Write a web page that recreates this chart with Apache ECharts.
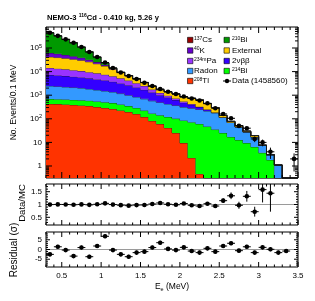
<!DOCTYPE html>
<html><head><meta charset="utf-8">
<script src="https://cdn.jsdelivr.net/npm/echarts@6/dist/echarts.min.js"></script>
<style>html,body{margin:0;padding:0;background:#fff}#c{width:315px;height:301px}</style>
</head><body><div id="c"></div>
<script>
// ---- data (bins of 0.1 MeV, centers) ----
const binCenters = [0.35,0.45,0.55,0.65,0.75,0.85,0.95,1.05,1.15,1.25,1.35,1.45,1.55,1.65,1.75,1.85,1.95,2.05,2.15,2.25,2.35,2.45,2.55,2.65,2.75,2.85,2.95,3.05,3.15,3.25,3.35,3.45];
const dataCounts = [440000,328000,233000,165701,110000,67700,41600,24300,14200,9160,6510,4860,3390,2455,1832,1407,1125,881,725,596,454,279,160,105,50,40,14,10,4,0,0,2];
const tl208   = [424,420,404,385,366,349,316,287,260,225,194,160,119,81,60,41,25,9.4,2.2,0.46,0,0,0,0,0,0,0,0,0,0,0,0];
const bi214   = [266,258,252,248,244,236,226,215,203,180,152,128,104,88,81,78,77,76,70,60,47,35,25,17,12.6,9.4,6.4,3.6,1.8,0,0,0];
const radon   = [1765,1665,1568,1478,1392,1250,1119,1003,900,762,651,552,476,408,353,305,263,227,207,188,167,141,88.5,52.8,32.4,18.2,10.5,4,1.2,1.1,0,0];
const twoNuBB = [4725,4500,4250,3950,3650,3330,3000,2680,2370,2000,1650,1300,1000,720,500,370,260,170,110,65,30,10,1.5,0.3,0,0,0,0,0,0,0,0];
const pa234m  = [7040,6500,5950,5400,4850,4300,3750,3200,2600,2000,1500,1080,760,430,250,160,100,60,32,14,4,0,0,0,0,0,0,0,0,0,0,0];
const external= [27330,26000,24000,22000,19500,16500,13000,9690,6300,3840,2620,1755,1006,689,471,439,410,301,325,307,193,111,24,8,6.5,2.7,2.5,0,0,0,0,0];
const k40     = [19850,17500,14500,11500,8500,5800,3800,2200,1000,350,60,0,0,0,0,0,0,0,0,0,0,0,0,0,0,0,0,0,0,0,0,0];
const bi210   = [380170,269912,181775,122256,71152,36898,16020,4000,600,50,0,0,0,0,0,0,0,0,0,0,0,0,0,0,0,0,0,0,0,0,0,0];
const cs137   = [200,250,300,150,30,0,0,0,0,0,0,0,0,0,0,0,0,0,0,0,0,0,0,0,0,0,0,0,0,0,0,0];
const ratioValues = [0.996,1.003,1.0,0.99,1.003,0.986,1.009,1.044,0.997,0.974,0.955,0.977,0.981,1.02,1.06,1.01,0.99,1.04,0.97,0.94,1.03,0.94,1.15,1.34,0.97,1.32,0.72,1.58,1.44,null,null,null];
const residualValues = [-2.5,1.4,-0.3,-3.4,1.0,-3.7,1.8,6.8,-0.3,-2.5,-3.7,-1.6,-1.1,1.0,3.5,0.3,-0.3,1.1,-0.8,-1.6,0.6,-1.1,1.8,3.2,-0.6,1.4,-1.6,1.1,0.1,-1.6,-0.8,null];
const xMajorTicks = [0.5,1,1.5,2,2.5,3,3.5];
const logDecades = [0,1,2,3,4,5];
const ratioMajorTicks = [0.5,1,1.5];
const residualMajorTicks = [-5,0,5];

const BIN_W = 0.1, X_MIN = 0.3, X_MAX = 3.5;
const Y_MIN = 0.31, Y_MAX = 7.76e5;
const FONT = 'Liberation Sans, Arial, Helvetica, sans-serif';

const layers = [
  {values: tl208,   color:'#ff3300'},
  {values: bi214,   color:'#00ff00'},
  {values: radon,   color:'#3399ff'},
  {values: twoNuBB, color:'#3300ff'},
  {values: pa234m,  color:'#9933ff'},
  {values: external,color:'#ffcc00'},
  {values: k40,     color:'#6600cc'},
  {values: bi210,   color:'#009900'},
  {values: cs137,   color:'#990000'}
];

const clampY = v => Math.max(Y_MIN, Math.min(Y_MAX, v));
let cum = binCenters.map(() => 0);
const stackSeries = layers.map((L) => {
  const lower = cum.slice();
  const upper = cum.map((c, i) => c + L.values[i]);
  cum = upper;
  return {
    type:'custom', xAxisIndex:0, yAxisIndex:0, z:2, silent:true, animation:false,
    data:[[1,1]],
    renderItem(params, api){
      const top = [], bot = [];
      for (let i = 0; i < binCenters.length; i++){
        const x0 = binCenters[i] - BIN_W/2, x1 = binCenters[i] + BIN_W/2;
        top.push(api.coord([x0, clampY(upper[i])]), api.coord([x1, clampY(upper[i])]));
        bot.push(api.coord([x0, clampY(lower[i])]), api.coord([x1, clampY(lower[i])]));
      }
      const poly = top.concat(bot.slice().reverse());
      return {type:'group', children:[
        {type:'polygon', shape:{points:poly}, style:{fill:L.color, stroke:null}},
        {type:'polyline', shape:{points:top}, style:{stroke:'#1a1a1a', lineWidth:0.7, fill:null}}
      ]};
    }
  };
});

function pointSeries(xi, yi, items, lo, hi, z){
  return {
    type:'custom', xAxisIndex:xi, yAxisIndex:yi, z:z||10, silent:true, animation:false,
    data: items,
    renderItem(params, api){
      const x = api.value(0), y = api.value(1), e = api.value(2);
      const c = api.coord([x, y]);
      const l = api.coord([x - BIN_W/2, y]), r = api.coord([x + BIN_W/2, y]);
      const a = api.coord([x, Math.max(lo, y - e)]), b = api.coord([x, Math.min(hi, y + e)]);
      return {type:'group', children:[
        {type:'line', shape:{x1:l[0], y1:c[1], x2:r[0], y2:c[1]}, style:{stroke:'#000', lineWidth:1}},
        {type:'line', shape:{x1:c[0], y1:a[1], x2:c[0], y2:b[1]}, style:{stroke:'#000', lineWidth:1}},
        {type:'circle', shape:{cx:c[0], cy:c[1], r:2.3}, style:{fill:'#000'}}
      ]};
    }
  };
}

const mainItems = [], ratioItems = [], resItems = [];
binCenters.forEach((x, i) => {
  const n = dataCounts[i];
  if (n > 0) mainItems.push([x, n, Math.sqrt(n)]);
  if (ratioValues[i] != null && ratioValues[i] >= 0.2 && ratioValues[i] <= 1.8)
    ratioItems.push([x, ratioValues[i], n > 0 ? ratioValues[i] / Math.sqrt(n) : 0]);
  if (residualValues[i] != null) resItems.push([x, residualValues[i], 1]);
});

// axis tick decorations (ROOT style: ticks on all four sides)
function tickSeries(xi, yi, xMaj, xMin, yMaj, yMin, lx, lxm, ly, lym, refLine){
  return {
    type:'custom', xAxisIndex:xi, yAxisIndex:yi, z:20, silent:true, animation:false,
    data:[[1,1]],
    renderItem(params, api){
      const cs = params.coordSys;
      const L = cs.x, R = cs.x + cs.width, T = cs.y, B = cs.y + cs.height;
      const ch = [];
      const ln = (x1,y1,x2,y2,col,w) => ch.push({type:'line', shape:{x1,y1,x2,y2}, style:{stroke:col||'#000', lineWidth:w||1}});
      if (refLine != null){
        const p = api.coord([X_MIN, refLine]);
        ln(L, p[1], R, p[1], '#9a9a9a', 1);
      }
      xMaj.forEach(v => { const p = api.coord([v, refLine != null ? refLine : 1]); ln(p[0], B, p[0], B - lx); ln(p[0], T, p[0], T + lx); });
      xMin.forEach(v => { const p = api.coord([v, refLine != null ? refLine : 1]); ln(p[0], B, p[0], B - lxm); ln(p[0], T, p[0], T + lxm); });
      yMaj.forEach(v => { const p = api.coord([X_MIN, v]); ln(L, p[1], L + ly, p[1]); ln(R, p[1], R - ly, p[1]); });
      yMin.forEach(v => { const p = api.coord([X_MIN, v]); ln(L, p[1], L + lym, p[1]); ln(R, p[1], R - lym, p[1]); });
      return {type:'group', children:ch};
    }
  };
}
const xMinorTicks = [];
for (let k = 3; k <= 35; k++) if (k % 5) xMinorTicks.push(k / 10);
const logMajor = logDecades.map(e => Math.pow(10, e));
const logMinor = [];
for (let e = -1; e <= 5; e++) for (let m = 2; m <= 9; m++) { const v = m * Math.pow(10, e); if (v > Y_MIN && v < Y_MAX) logMinor.push(v); }
const ratioMinor = []; for (let k = 3; k <= 17; k++) if (k % 5) ratioMinor.push(k / 10);
const resMinor = []; for (let k = -8; k <= 8; k++) if (k % 5) resMinor.push(k);

const lab = {color:'#000', fontFamily:FONT, fontSize:8};
const xAxisBase = {type:'value', min:X_MIN, max:X_MAX, interval:0.1, axisLine:{show:false}, axisTick:{show:false}, splitLine:{show:false}};
const grids = [
  {left:46, right:17, top:27, height:151},
  {left:46, right:17, top:184, height:41},
  {left:46, right:17, top:232, height:35}
].map(g => Object.assign(g, {show:true, borderColor:'#000', borderWidth:1, containLabel:false}));

const option = {
  animation:false,
  backgroundColor:'#fff',
  grid: grids,
  xAxis:[
    Object.assign({gridIndex:0, axisLabel:{show:false}}, xAxisBase),
    Object.assign({gridIndex:1, axisLabel:{show:false}}, xAxisBase),
    Object.assign({gridIndex:2, axisLabel:Object.assign({margin:5, formatter: v => { const r = Math.round(v*10); return r % 5 ? '' : String(r/10); }}, lab)}, xAxisBase)
  ],
  yAxis:[
    {type:'log', logBase:10, gridIndex:0, min:Y_MIN, max:Y_MAX, axisLine:{show:false}, axisTick:{show:false}, splitLine:{show:false},
     axisLabel:Object.assign({margin:4, showMinLabel:false, showMaxLabel:false,
       formatter: v => { const l = Math.log10(v), e = Math.round(l); if (Math.abs(l - e) > 1e-6) return ''; if (e === 0) return '1'; if (e === 1) return '10'; return '10{e|' + e + '}'; },
       rich:{e:{fontSize:5.5, fontFamily:FONT, color:'#000', verticalAlign:'top', padding:[0,0,4,0]}}}, lab)},
    {type:'value', gridIndex:1, min:0.2, max:1.8, interval:0.1, axisLine:{show:false}, axisTick:{show:false}, splitLine:{show:false},
     axisLabel:Object.assign({margin:4, formatter: v => { const r = Math.round(v*10); return r % 5 ? '' : String(r/10); }}, lab)},
    {type:'value', gridIndex:2, min:-9, max:9, interval:1, axisLine:{show:false}, axisTick:{show:false}, splitLine:{show:false},
     axisLabel:Object.assign({margin:4, formatter: v => { const r = Math.round(v); return r % 5 ? '' : String(r); }}, lab)}
  ],
  series: [
    ...stackSeries,
    pointSeries(0, 0, mainItems, Y_MIN, Y_MAX, 12),
    tickSeries(0, 0, xMajorTicks, xMinorTicks, logMajor, logMinor, 6, 3, 6, 3, null),
    tickSeries(1, 1, xMajorTicks, xMinorTicks, ratioMajorTicks, ratioMinor, 5, 2.5, 4, 2, 1),
    pointSeries(1, 1, ratioItems, 0.2, 1.8, 25),
    tickSeries(2, 2, xMajorTicks, xMinorTicks, residualMajorTicks, resMinor, 5, 2.5, 4, 2, 0),
    pointSeries(2, 2, resItems, -9, 9, 25)
  ],
  graphic: []
};

// titles
const g = option.graphic;
g.push({type:'text', x:47, y:17.5, silent:true, style:{text:'{b|NEMO-3 }{s|116}{b|Cd - 0.410 kg, 5.26 y}', textVerticalAlign:'middle',
  rich:{b:{fontSize:7.6, fontWeight:'bold', fontFamily:FONT, fill:'#000'}, s:{fontSize:5, fontWeight:'bold', fontFamily:FONT, fill:'#000', verticalAlign:'top'}}}});
const yTitle = (x, y, t, fs) => g.push({type:'text', x, y, rotation:Math.PI/2, silent:true, style:{text:t, fontSize:fs, fontFamily:FONT, fill:'#000', textAlign:'center', textVerticalAlign:'middle'}});
yTitle(14, 102.5, 'No. Events/0.1 MeV', 8.5);
yTitle(22, 203, 'Data/MC', 9.5);
yTitle(14, 250, 'Residual (σ)', 10);
g.push({type:'text', x:172, y:287, silent:true, style:{text:'E{sub|e} (MeV)', textAlign:'center', textVerticalAlign:'middle', fontSize:8.5, fontFamily:FONT, fill:'#000',
  rich:{sub:{fontSize:5.5, fontFamily:FONT, fill:'#000', verticalAlign:'bottom', padding:[4,0,0,0]}}}});

// legend
const legendCol1 = [['{s|137}Cs','#990000'],['{s|40}K','#6600cc'],['{s|234m}Pa','#9933ff'],['Radon','#3399ff'],['{s|208}Tl','#ff3300']];
const legendCol2 = [['{s|210}Bi','#009900'],['External','#ffcc00'],['2νββ','#3300ff'],['{s|214}Bi','#00ff00'],['Data (1458560)',null]];
const rowY = [40, 50.5, 61, 71, 81];
const legRich = {s:{fontSize:5, fontFamily:FONT, fill:'#000', verticalAlign:'top'}};
function legendEntry(bx, tx, y, txt, col){
  if (col) g.push({type:'rect', silent:true, shape:{x:bx, y:y-2.7, width:5.4, height:5.4}, style:{fill:col, stroke:'#000', lineWidth:0.6}});
  else {
    g.push({type:'line', silent:true, shape:{x1:bx-1, y1:y, x2:bx+7, y2:y}, style:{stroke:'#000', lineWidth:1}});
    g.push({type:'circle', silent:true, shape:{cx:bx+3, cy:y, r:2.2}, style:{fill:'#000'}});
  }
  g.push({type:'text', x:tx, y:y, silent:true, style:{text:txt, fontSize:8, fontFamily:FONT, fill:'#000', textVerticalAlign:'middle', rich:legRich}});
}
legendCol1.forEach((e, i) => legendEntry(187.5, 194, rowY[i], e[0], e[1]));
legendCol2.forEach((e, i) => legendEntry(224, 232, rowY[i], e[0], e[1]));

const chart = echarts.init(document.getElementById('c'), null, {renderer:'canvas'});
chart.setOption(option);
</script></body></html>
